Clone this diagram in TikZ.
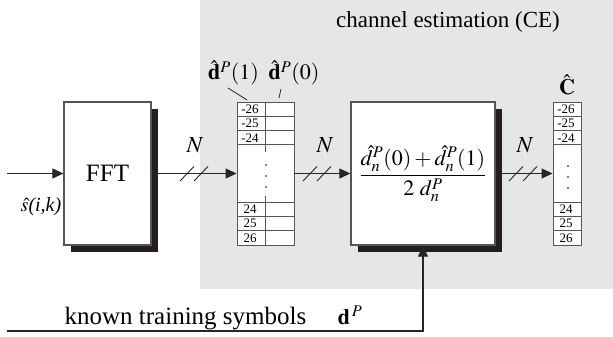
\documentclass[tikz,border=0pt]{standalone}
\usepackage{mathptmx}
\usepackage[no-math]{fontspec}
\setmainfont{Liberation Serif}
\usetikzlibrary{arrows.meta,calc}
\definecolor{cegray}{RGB}{229,230,232}
\definecolor{shad}{RGB}{35,31,32}
\definecolor{bord}{RGB}{85,85,85}
\begin{document}
\begin{tikzpicture}[x=1pt,y=-1pt,
  blk/.style={draw=bord,line width=1.3pt,fill=white,inner sep=0pt,minimum height=143pt},
  shadowbox/.style={fill=shad,inner sep=0pt,minimum height=143pt},
  tbl/.style={draw=bord,line width=0.9pt,fill=white,inner sep=0pt,minimum height=143pt},
  conn/.style={line width=1.1pt,draw=black!85,-{Triangle[length=11pt,width=10pt]}},
  slash/.style={line width=0.9pt,draw=black!85},
  num/.style={font=\fontsize{13}{14}\selectfont,inner sep=0pt},
  nlab/.style={font=\fontsize{23}{25}\selectfont,inner sep=0pt},
  hlab/.style={font=\fontsize{22}{24}\selectfont,inner sep=0pt},
  leader/.style={line width=0.8pt,draw=black!85}]
\useasboundingbox (0,0) rectangle (613,337);
% gray CE region
\fill[cegray] (200,0) rectangle (613,289);
\node[font=\fontsize{23}{26}\selectfont,inner sep=0pt] (title) at (448,22) {channel estimation (CE)};
% FFT block
\node[shadowbox,minimum width=87pt] (fftsh) at (114.5,180.5) {};
\node[blk,minimum width=87pt,font=\fontsize{25}{28}\selectfont] (fft) at (107.5,173.5) {FFT};
% estimation block
\node[shadowbox,minimum width=144pt] (estsh) at (430,180.5) {};
\node[blk,minimum width=144pt,font=\fontsize{22}{26}\selectfont] (est) at (423,173.5)
  {$\displaystyle\frac{\hat{d}_n^P(0)+\hat{d}_n^P(1)}{2\ d_n^P}$};
% table 1
\node[tbl,minimum width=57pt] (t1) at (265.5,173.5) {};
\foreach \yy in {116.3,130.6,144.9,202.1,216.4,230.7}
  \draw[line width=0.9pt,draw=bord] (237,\yy) -- (294,\yy);
\draw[line width=0.9pt,draw=bord] (265,102) -- (265,152);
\draw[line width=0.9pt,draw=bord] (265,196) -- (265,245);
\foreach \yy/\t in {109.15/-26,123.45/-25,137.75/-24,209.25/24,223.55/25,237.85/26}
  \node[num] at (250,\yy) {\t};
\foreach \yy in {165,176,187} \fill (266,\yy) circle (0.9pt);
% table 2
\node[tbl,minimum width=28pt] (t2) at (567,173.5) {};
\foreach \yy in {116.3,130.6,144.9,202.1,216.4,230.7}
  \draw[line width=0.9pt,draw=bord] (553,\yy) -- (581,\yy);
\foreach \yy/\t in {109.15/-26,123.45/-25,137.75/-24,209.25/24,223.55/25,237.85/26}
  \node[num] at (566,\yy) {\t};
\foreach \yy in {166,177,188} \fill (568,\yy) circle (0.9pt);
% labels above tables
\node[hlab,anchor=base] (d1) at (233.5,80) {$\hat{\mathbf{d}}^P(1)$};
\node[hlab,anchor=base] (d0) at (294,80) {$\hat{\mathbf{d}}^P(0)$};
\node[hlab,anchor=base] (chat) at (567,95) {$\hat{\mathbf{C}}$};
\draw[leader] (228,88) -- (247,100);
\draw[leader] (281,89) -- (279,98);
% input
\coordinate (in) at (7,173.5);
\draw[conn] (in) -- (fft.west);
\node[font=\fontsize{20}{22}\selectfont,inner sep=0pt] (s) at (41,207) {$\hat{s}$\textit{(i,k)}};
% N arrows
\draw[conn] (fft.east -| fftsh.east) -- (t1.west);
\draw[conn] (t1.east) -- (est.west);
\draw[conn] (est.east -| estsh.east) -- (t2.west);
\node[nlab] (n1) at (195,145) {$N$};
\node[nlab] (n2) at (325,145) {$N$};
\node[nlab] (n3) at (525,145) {$N$};
\foreach \xx in {187,201,310,324,516,530}
  \draw[slash] (\xx-7,181) -- (\xx+7,166.5);
% training symbols
\coordinate (tr) at (7,331);
\draw[conn] (tr) -| (est.south);
\node[font=\fontsize{25}{28}\selectfont,inner sep=0pt,anchor=base] (kts) at (185.5,324) {known training symbols};
\node[hlab,anchor=base] (dp) at (350,324) {$\mathbf{d}^{\,P}$};
\end{tikzpicture}
\end{document}
